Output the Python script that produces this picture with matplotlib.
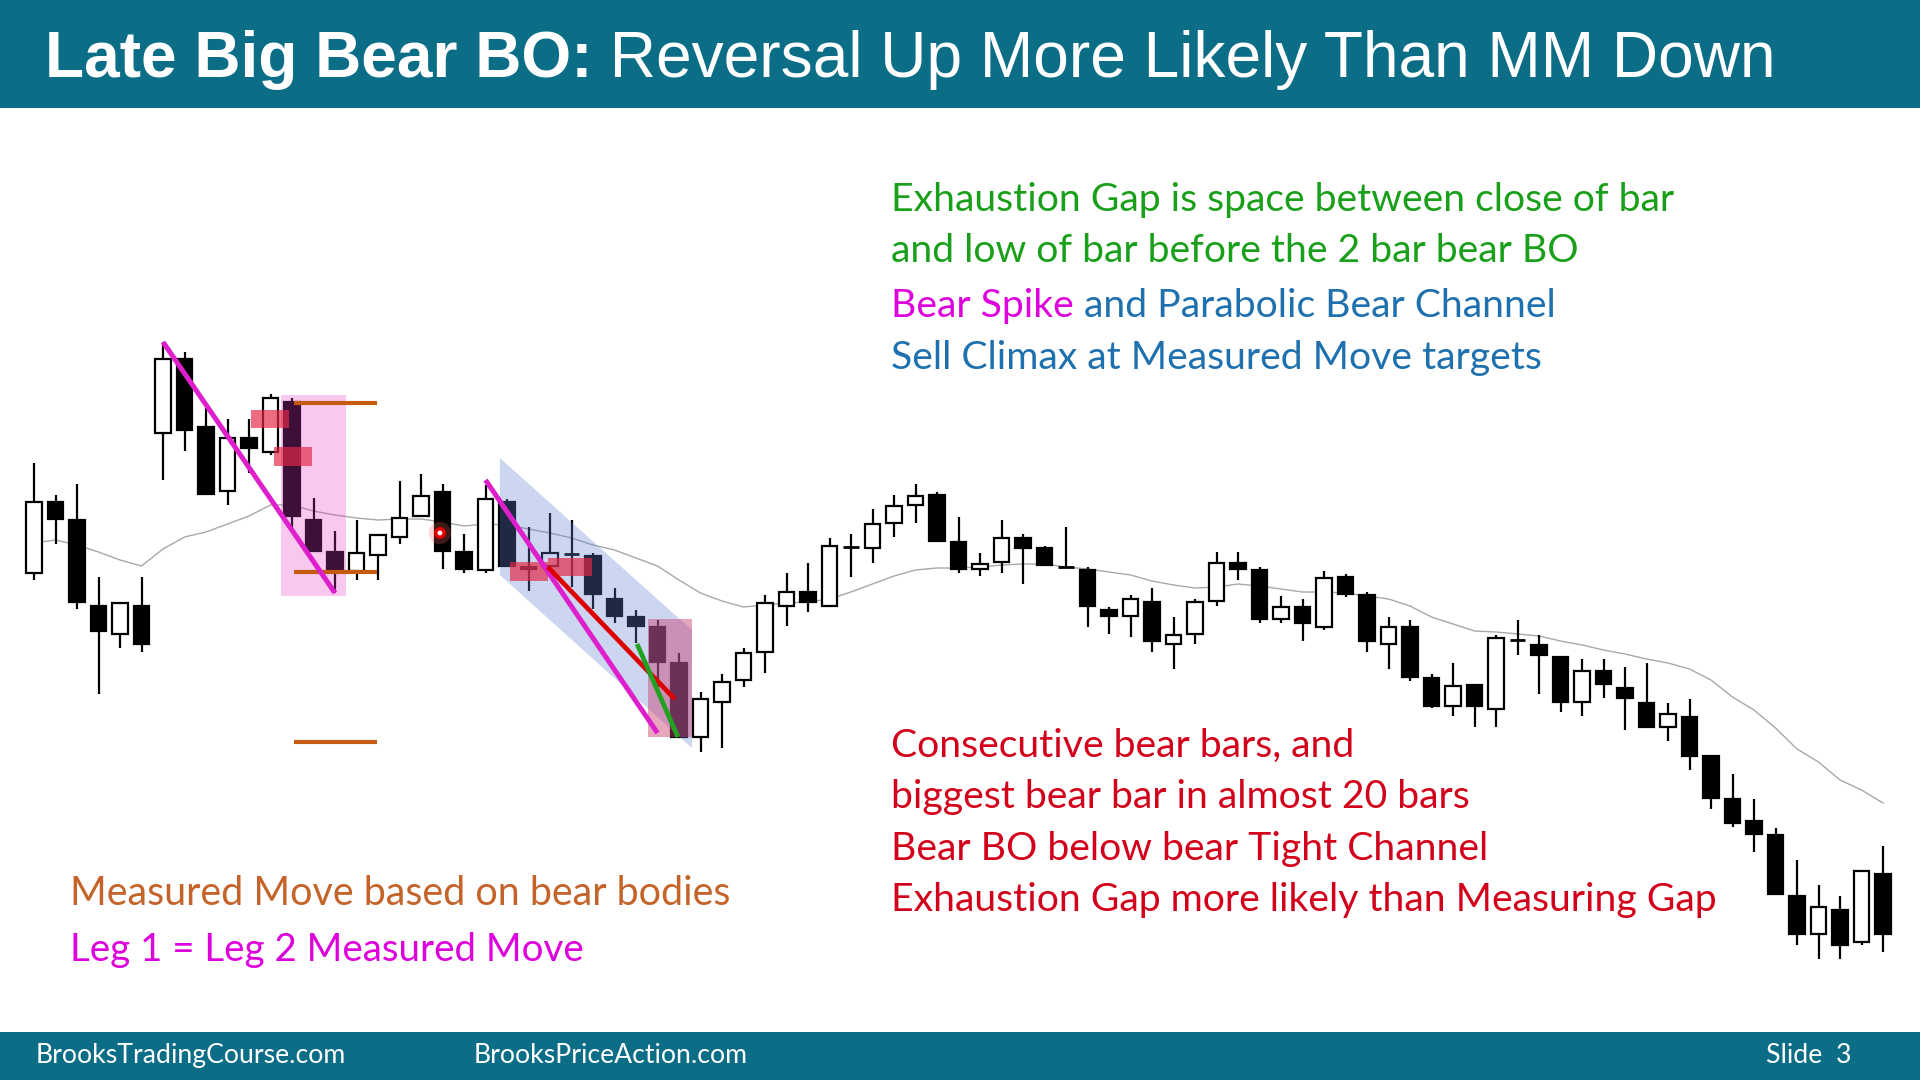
import numpy as np
import matplotlib
matplotlib.use("Agg")
import matplotlib.pyplot as plt
from matplotlib.patches import Rectangle, Polygon

# ---------------- data (price levels, screen-style scale: larger = lower) -------------
opens = [573, 502, 520, 606, 634, 606, 433, 359, 427, 491, 438, 452, 402, 520, 552, 571, 555, 537, 516, 492,
         552, 570, 502, 569, 566, 554, 556, 599, 617, 627, 663, 737, 702, 680, 652, 606, 592, 606, 547, 548,
         523, 505, 495, 542, 569, 562, 538, 548, 566, 570, 610, 616, 602, 644, 634, 601, 563, 570, 619, 607,
         627, 577, 595, 644, 627, 678, 706, 685, 709, 639, 645, 657, 702, 671, 688, 703, 727, 717, 756, 799,
         821, 835, 896, 934, 910, 942, 874]
highs = [463, 495, 484, 577, 603, 577, 342, 352, 408, 419, 419, 394, 398, 498, 531, 520, 535, 481, 474, 484,
         534, 485, 499, 527, 513, 520, 553, 588, 610, 620, 653, 692, 674, 648, 595, 573, 563, 538, 534, 509,
         495, 484, 492, 517, 553, 520, 534, 546, 527, 567, 607, 595, 588, 617, 599, 552, 552, 567, 596, 599,
         571, 574, 592, 617, 620, 674, 663, 685, 635, 620, 635, 657, 659, 659, 667, 663, 703, 699, 756, 774,
         799, 828, 860, 885, 896, 871, 846]
lows = [580, 544, 609, 694, 648, 652, 480, 451, 494, 505, 473, 455, 530, 551, 593, 580, 580, 544, 516, 569,
        573, 573, 566, 591, 566, 587, 609, 623, 643, 687, 737, 752, 748, 687, 673, 626, 612, 606, 577, 563,
        537, 523, 541, 573, 576, 573, 584, 566, 568, 627, 634, 637, 652, 669, 644, 606, 580, 623, 623, 641,
        630, 597, 652, 669, 681, 708, 716, 727, 727, 655, 694, 712, 716, 698, 730, 727, 741, 770, 809, 827,
        852, 894, 945, 959, 959, 945, 952]
closes = [502, 519, 602, 631, 603, 644, 359, 430, 494, 438, 448, 398, 516, 551, 570, 553, 535, 518, 496, 551,
          569, 499, 566, 567, 553, 553, 594, 616, 626, 662, 737, 699, 682, 653, 603, 592, 602, 546, 546, 524,
          506, 496, 541, 569, 564, 538, 548, 565, 567, 606, 616, 599, 641, 635, 602, 563, 569, 619, 607, 623,
          578, 594, 641, 627, 677, 706, 686, 706, 638, 640, 655, 702, 671, 684, 698, 727, 714, 756, 798, 823,
          834, 894, 934, 907, 945, 871, 934]
ema = [543, 540, 545, 552, 560, 566, 549, 537, 532, 524, 516, 505, 505, 511, 515, 518, 520, 519, 519, 522,
       526, 524, 525, 529, 533, 538, 545, 550, 558, 566, 580, 593, 601, 607, 605, 603, 602, 599, 592, 584,
       576, 570, 568, 568, 567, 565, 564, 564, 567, 569, 572, 575, 581, 585, 588, 587, 584, 586, 589, 592,
       592, 593, 596, 599, 606, 617, 624, 631, 632, 634, 636, 641, 645, 650, 654, 659, 663, 669, 680, 697,
       710, 728, 749, 762, 780, 790, 803]

# annotation anchors (bar index, price level)
spike_line = [(6, 342), (14, 593)]
channel_poly = [(21.67, 458), (30.6, 630), (30.6, 748), (21.67, 575)]
parabolic_line = [(21, 480), (29.0, 733)]
red_line = [(23.9, 567), (29.8, 699)]
green_line = [(28.05, 644), (29.95, 737)]
spike_box = (11.5, 395, 14.5, 596)
bo_box = (28.56, 619, 30.6, 737)
red_boxes = [(10.1, 410, 11.86, 428), (11.16, 447, 12.93, 466),
             (22.14, 562, 23.9, 581), (23.9, 558, 25.95, 576)]
mm_levels = [403, 572, 742]
mm_x = (12.09, 15.95)
dot = (18.88, 533)

W, H = 1920, 1080
TEAL = "#0b6d86"

fig = plt.figure(figsize=(19.2, 10.8), dpi=100)
fig.patch.set_facecolor("white")
ax = fig.add_axes([0, 0, 1, 1])
ax.set_xlim(-34 / 21.5, (W - 34) / 21.5)
ax.set_ylim(H, 0)
ax.axis("off")

# EMA
ax.plot(np.arange(len(ema)), ema, color="#a8a8a8", lw=1.0, zorder=1)

# candles
bw = 0.74
for i, (o, h, l, c) in enumerate(zip(opens, highs, lows, closes)):
    ax.vlines(i, h, l, color="black", lw=1.6, zorder=2)
    top, bot = min(o, c), max(o, c)
    bull = c < o  # screen-style scale
    if bot - top < 1.5:
        ax.hlines((top + bot) / 2, i - bw / 2, i + bw / 2, color="black", lw=2.0, zorder=3)
    else:
        ax.add_patch(Rectangle((i - bw / 2, top), bw, bot - top,
                               facecolor="white" if bull else "black",
                               edgecolor="black", lw=1.6, zorder=3))

# overlays
ax.add_patch(Polygon(channel_poly, closed=True, facecolor=(100/255, 130/255, 210/255), alpha=0.32,
                     edgecolor="none", zorder=4))
x0, y0, x1, y1 = spike_box
ax.add_patch(Rectangle((x0, y0), x1 - x0, y1 - y0, facecolor=(230/255, 60/255, 200/255), alpha=0.28,
                       edgecolor="none", zorder=4))
x0, y0, x1, y1 = bo_box
ax.add_patch(Rectangle((x0, y0), x1 - x0, y1 - y0, facecolor=(200/255, 60/255, 110/255), alpha=0.45,
                       edgecolor="none", zorder=4))
for (x0, y0, x1, y1) in red_boxes:
    ax.add_patch(Rectangle((x0, y0), x1 - x0, y1 - y0, facecolor=(228/255, 40/255, 70/255), alpha=0.68,
                           edgecolor="none", zorder=5))
for lev in mm_levels:
    ax.hlines(lev, mm_x[0], mm_x[1], color="#c55a11", lw=3.0, zorder=5)

def seg(pts, color, lw):
    (xa, ya), (xb, yb) = pts
    ax.plot([xa, xb], [ya, yb], color=color, lw=lw, solid_capstyle="butt", zorder=6)

seg(spike_line, "#dd1fcc", 3.6)
seg(parabolic_line, "#dd1fcc", 3.6)
seg(red_line, "#dd0000", 3.4)
seg(green_line, "#22a022", 3.4)

ax.scatter([dot[0]], [dot[1]], s=260, color="#ff6060", alpha=0.25, zorder=7, edgecolors="none")
ax.scatter([dot[0]], [dot[1]], s=75, color="#e00000", zorder=8, edgecolors="none")
ax.scatter([dot[0]], [dot[1]], s=12, color="white", zorder=9, edgecolors="none")

# bands
fig.patches.append(Rectangle((0, 1 - 108 / H), 1, 108 / H, transform=fig.transFigure,
                             facecolor=TEAL, edgecolor="none", zorder=0))
fig.patches.append(Rectangle((0, 0), 1, 48 / H, transform=fig.transFigure,
                             facecolor=TEAL, edgecolor="none", zorder=0))

R = fig.canvas.get_renderer()

def width(t):
    return t.get_window_extent(R).width

def put(x, y, s, **kw):
    return fig.text(x / W, 1 - y / H, s, va="baseline", ha="left", **kw)

def fit(t, target):
    t.set_fontsize(t.get_fontsize() * target / width(t))
    return t.get_fontsize()

# title
t1 = put(45, 77, "Late Big Bear BO:", color="white", fontsize=40, fontweight="bold", family="Liberation Sans")
t2 = put(45, 77, " Reversal Up More Likely Than MM Down", color="white", fontsize=40, family="Liberation Sans")
scale = (1773 - 45) / (width(t1) + width(t2))
t1.set_fontsize(40 * scale)
t2.set_fontsize(40 * scale)
t2.set_x((45 + width(t1)) / W)

FONT = "Lato"
GREEN = "#1a9f1a"
BLUE = "#1f70ae"
MAG = "#dd00dd"
RED = "#d2001a"
BROWN = "#c5642a"

g1 = put(891, 211, "Exhaustion Gap is space between close of bar", color=GREEN, fontsize=28, family=FONT)
fs = fit(g1, 784)
put(891, 262, "and low of bar before the 2 bar bear BO", color=GREEN, fontsize=fs, family=FONT)
b1 = put(891, 317, "Bear Spike", color=MAG, fontsize=fs, family=FONT)
put(891 + width(b1), 317, " and Parabolic Bear Channel", color=BLUE, fontsize=fs, family=FONT)
put(891, 369, "Sell Climax at Measured Move targets", color=BLUE, fontsize=fs, family=FONT)

put(891, 757, "Consecutive bear bars, and", color=RED, fontsize=fs, family=FONT)
put(891, 808, "biggest bear bar in almost 20 bars", color=RED, fontsize=fs, family=FONT)
put(891, 860, "Bear BO below bear Tight Channel", color=RED, fontsize=fs, family=FONT)
r4 = put(891, 911, "Exhaustion Gap more likely than Measuring Gap", color=RED, fontsize=fs, family=FONT)

m1 = put(70, 905, "Measured Move based on bear bodies", color=BROWN, fontsize=fs, family=FONT)
fs2 = fit(m1, 661)
m2 = put(70, 961, "Leg 1 = Leg 2 Measured Move", color=MAG, fontsize=fs2, family=FONT)
fit(m2, 513)

# footer
f1 = put(36, 1063, "BrooksTradingCourse.com", color="white", fontsize=16, family=FONT)
ffs = fit(f1, 311)
put(474, 1063, "BrooksPriceAction.com", color="white", fontsize=ffs, family=FONT)
put(1766, 1063, "Slide  3", color="white", fontsize=ffs, family=FONT)

fig.savefig("out.png", dpi=100, facecolor="white")
